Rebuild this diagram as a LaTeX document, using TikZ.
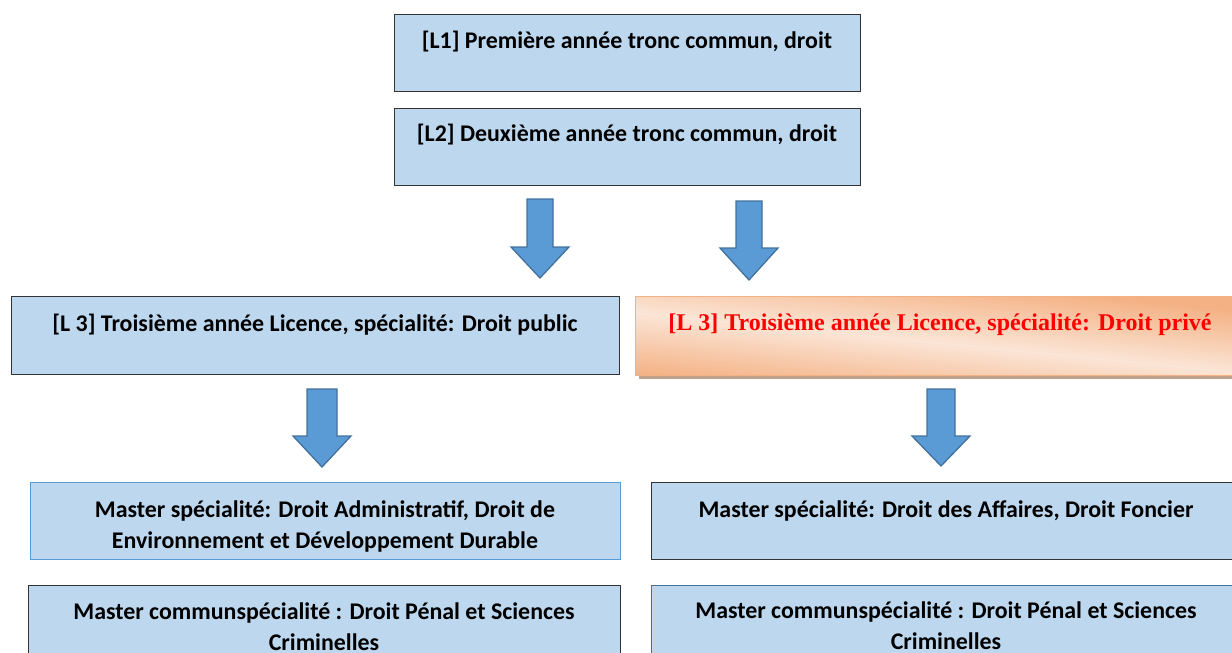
\documentclass[tikz,border=0pt]{standalone}
\usepackage{fontspec}
\setmainfont{Carlito}
\newfontfamily\timesf{Liberation Serif}
\definecolor{boxfill}{HTML}{BDD7EE}
\definecolor{arrfill}{HTML}{5B9BD5}
\definecolor{arrline}{HTML}{41719C}
\definecolor{orgdark}{HTML}{F4B183}
\definecolor{orglight}{HTML}{FBE5D6}
\definecolor{shadowc}{HTML}{BFA38C}
\begin{document}
\begin{tikzpicture}[x=1pt,y=-1pt,
  box/.style={draw=black!80, line width=0.9pt, fill=boxfill, anchor=north west, inner sep=0pt},
  bluebox/.style={box, draw=arrline},
  txt/.style={font=\fontsize{23.9}{31}\selectfont\bfseries, align=center, inner sep=0pt},
  barrow/.style={fill=arrfill, draw=arrline, line width=1.3pt, line join=miter}]
\useasboundingbox (0,0) rectangle (1232,653);
\clip (0,0) rectangle (1232,653);
\newcommand\blockarrow[6]{% cx, top, headstart, tip, shaft half, head half
  \draw[barrow] ({#1-#5},#2) -- ({#1+#5},#2) -- ({#1+#5},#3) -- ({#1+#6},#3) -- (#1,#4)
    -- ({#1-#6},#3) -- ({#1-#5},#3) -- cycle;}
% top boxes
\node[box, minimum width=466, minimum height=77] (l1) at (394,14) {};
\node[txt] (l1t) at (627,42) {[L1] Première année tronc commun, droit};
\node[box, minimum width=466, minimum height=77] (l2) at (394,108) {};
\node[txt] (l2t) at (627,135) {[L2] Deuxième année tronc commun, droit};
% arrows
\blockarrow{540}{199}{247}{278}{13}{29}
\blockarrow{749}{201}{248}{280}{13}{29}
% L3 boxes
\node[box, minimum width=608, minimum height=78] (l3a) at (11,296) {};
\node[txt] (l3at) at (315,325) {[L 3] Troisième année Licence, spécialité: Droit public};
\fill[shadowc] (639,300) rectangle (1240,379);
\begin{scope}
  \clip (635,296) rectangle (1240,375);
  \foreach \d in {-100,-98,...,100} {
    \pgfmathtruncatemacro\p{min(100,abs(\d)*1.6)}
    \fill[orgdark!\p!orglight] (635,{312+\d}) -- (1240,{372+\d}) -- (1240,{374.6+\d}) -- (635,{314.6+\d}) -- cycle;
  }
\end{scope}
\node[draw=orgdark, line width=1pt, anchor=north west, minimum width=605, minimum height=79, inner sep=0pt] (l3b) at (635,296) {};
\node[txt, font=\fontsize{24}{28}\selectfont\timesf\bfseries, text=red] (l3bt) at (940,325) {[L 3] Troisième année Licence, spécialité: Droit privé};
% lower arrows
\blockarrow{322}{389}{436}{467}{15}{29}
\blockarrow{941}{389}{436}{466}{14}{29}
% master boxes
\node[bluebox, draw=arrfill, minimum width=590, minimum height=77] (m1) at (30,482) {};
\node[txt] (m1t) at (325,526) {Master spécialité: Droit Administratif, Droit de\\Environnement et Développement Durable};
\node[box, minimum width=592, minimum height=80] (m2) at (28,585) {};
\node[txt] (m2t) at (324,627) {Master communspécialité : Droit Pénal et Sciences\\Criminelles};
\node[box, minimum width=590, minimum height=77] (m3) at (651,482) {};
\node[txt] (m3t) at (946,511) {Master spécialité: Droit des Affaires, Droit Foncier};
\node[bluebox, minimum width=590, minimum height=80] (m4) at (651,585) {};
\node[txt] (m4t) at (946,626) {Master communspécialité : Droit Pénal et Sciences\\Criminelles};
\end{tikzpicture}
\end{document}
